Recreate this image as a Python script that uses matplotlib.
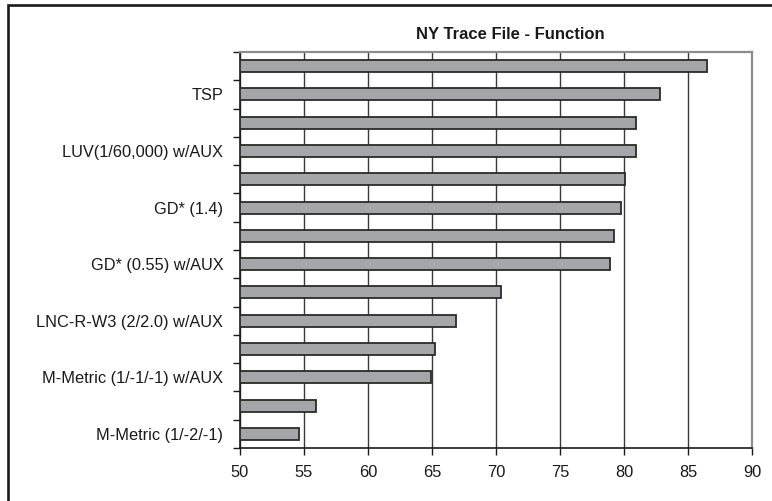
import matplotlib
matplotlib.use("Agg")
import matplotlib.pyplot as plt
from matplotlib.patches import Rectangle
from matplotlib.ticker import MultipleLocator, FixedLocator

plt.rcParams["font.family"] = ["Liberation Sans", "DejaVu Sans"]

# Categories listed top to bottom; only every other one carries a label
categories = [
    "", "TSP", "", "LUV(1/60,000) w/AUX", "", "GD* (1.4)", "",
    "GD* (0.55) w/AUX", "", "LNC-R-W3 (2/2.0) w/AUX", "",
    "M-Metric (1/-1/-1) w/AUX", "", "M-Metric (1/-2/-1)",
]
values = [86.5, 82.8, 80.9, 80.9, 80.1, 79.8, 79.2, 78.9,
          70.4, 66.9, 65.2, 64.9, 55.9, 54.6]
title = "NY Trace File - Function"
x_min, x_max, x_step = 50, 90, 5

W, H = 772, 501
fig = plt.figure(figsize=(W / 100, H / 100), dpi=100)

# Outer chart frame
fig.patches.append(Rectangle((8 / W, -0.05), 1.2, (H - 5) / H + 0.05,
                             transform=fig.transFigure, fill=False,
                             edgecolor="#1a1a1a", linewidth=1.9))

ax = fig.add_axes([240 / W, 1 - 448 / H, (752 - 240) / W, (448 - 52) / H])

n = len(values)
ypos = list(range(n))
ax.barh(ypos, [v - x_min for v in values], left=x_min, height=0.42,
        color="#a5a6aa", edgecolor="#2b2b2b", linewidth=1.3, zorder=3)

ax.set_xlim(x_min, x_max)
ax.set_ylim(n - 0.5, -0.5)
ax.xaxis.set_major_locator(MultipleLocator(x_step))
ax.grid(axis="x", color="#3a3a3a", linewidth=1.0, zorder=1)
ax.grid(axis="y", visible=False)

# Category labels at bar centres, tick marks between categories
ax.yaxis.set_major_locator(FixedLocator(ypos))
ax.set_yticklabels(categories)
ax.yaxis.set_minor_locator(FixedLocator([k - 0.5 for k in range(n + 1)]))
ax.tick_params(axis="y", which="major", length=0, pad=12, labelsize=11.8,
               labelcolor="#1a1a1a")
ax.tick_params(axis="y", which="minor", length=5, width=1.0, color="#1a1a1a",
               direction="out")
ax.tick_params(axis="x", which="major", length=5, width=1.0, color="#1a1a1a",
               direction="out", pad=7, labelsize=11.8, labelcolor="#1a1a1a")

for side in ("left", "bottom"):
    ax.spines[side].set_color("#1a1a1a")
    ax.spines[side].set_linewidth(1.2)
for side in ("top", "right"):
    ax.spines[side].set_color("#8c8c8c")
    ax.spines[side].set_linewidth(1.6)

fig.text(510 / W, 1 - 34.5 / H, title, ha="center", va="center",
         fontsize=12, fontweight="bold", color="#1a1a1a")

fig.savefig("out.png", dpi=100)
